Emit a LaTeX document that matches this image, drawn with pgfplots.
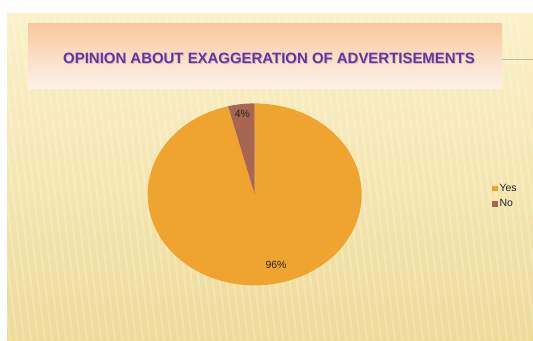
\documentclass[border=0pt]{standalone}
\usepackage{pgfplots}
\pgfplotsset{compat=1.18}
\usepackage{pgfplotstable}
\usepackage{fontspec}
\setmainfont{Liberation Sans}
\definecolor{bgtop}{RGB}{252,241,202}
\definecolor{bgbot}{RGB}{238,219,152}
\definecolor{titletop}{RGB}{249,200,158}
\definecolor{titlebot}{RGB}{253,242,232}
\definecolor{titletext}{RGB}{112,48,160}
\definecolor{yescol}{RGB}{240,164,48}
\definecolor{nocol}{RGB}{166,102,82}
% slice values (percent)
\pgfplotstableread{
label value
Yes   96
No    4
}\piedata
\begin{document}
\begin{tikzpicture}[x=1bp,y=1bp]
\useasboundingbox (0,0) rectangle (533,340);
\fill[white] (0,0) rectangle (533,340);
\shade[top color=bgtop, bottom color=bgbot] (7,0) rectangle (533,326);
\begin{scope}
\clip (7,0) rectangle (533,326);
\foreach \i in {-200,-193,...,560} \draw[white, opacity=0.22, line width=2.2bp] (\i,0) -- (\i-40,326);
\end{scope}
\shade[top color=titletop, bottom color=titlebot] (28,252) rectangle (502,317);
\draw[gray!55, line width=0.6bp] (502,281) -- (533,281);
\node[text=black!25, font=\bfseries\fontsize{15}{16}\selectfont, xshift=0.8bp, yshift=-1.2bp] at (269,282) {OPINION ABOUT EXAGGERATION OF ADVERTISEMENTS};
\node[text=titletext, font=\bfseries\fontsize{15}{16}\selectfont] at (269,282) {OPINION ABOUT EXAGGERATION OF ADVERTISEMENTS};
\pgfplotstablegetelem{0}{value}\of\piedata \edef\yesval{\pgfplotsretval}
\pgfplotstablegetelem{1}{value}\of\piedata \edef\noval{\pgfplotsretval}
\pgfmathsetmacro{\split}{90+\noval*3.6}
\begin{axis}[
  at={(138,60)}, anchor=south west,
  scale only axis, width=214bp, height=182bp,
  xmin=-1, xmax=1, ymin=-1, ymax=1,
  hide axis, clip=false,
  legend style={at={(1.61,0.49)}, anchor=west, draw=none, fill=none,
    font=\fontsize{10.5}{11}\selectfont, text=black!85, row sep=3bp, inner sep=0pt},
  legend cell align=left,
  legend image code/.code={\fill[#1] (0bp,-2.6bp) rectangle (5.2bp,2.6bp);},
]
\addplot[fill=yescol, draw=none, domain=\split:450, samples=120, variable=\t]
  ({cos(\t)},{sin(\t)}) -- (axis cs:0,0) -- cycle;
\addlegendentry{Yes}
\addplot[fill=nocol, draw=none, domain=90:\split, samples=20, variable=\t]
  ({cos(\t)},{sin(\t)}) -- (axis cs:0,0) -- cycle;
\addlegendentry{No}
\node[font=\fontsize{10.5}{11}\selectfont, text=black!85] at (axis cs:-0.115,0.88) {\noval\%};
\node[font=\fontsize{10.5}{11}\selectfont, text=black!85] at (axis cs:0.2,-0.77) {\yesval\%};
\end{axis}
\end{tikzpicture}
\end{document}
